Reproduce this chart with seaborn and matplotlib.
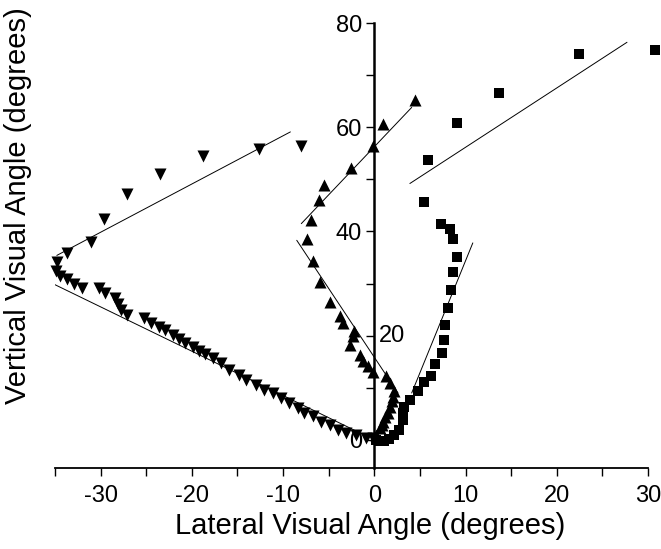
import matplotlib
matplotlib.use("Agg")
import matplotlib.pyplot as plt
import seaborn as sns
import pandas as pd

# marker data (degrees)
down_x = [-0.1, -0.9, -2.0, -3.1, -4.0, -4.9, -5.8, -6.7, -7.7, -8.4, -9.3, -10.2, -11.1, -12.1,
          -13.0, -14.1, -14.8, -15.9, -16.8, -17.7, -18.6, -19.2, -19.9, -20.7, -21.4, -22.1,
          -22.9, -23.6, -24.5, -25.2, -27.1, -27.8, -28.1, -28.4, -29.5, -30.2, -32.0, -32.9,
          -33.7, -34.5, -34.9, -34.8, -33.7, -31.0, -29.6, -27.1, -23.5, -18.8, -12.6, -8.0]
down_y = [0.3, 0.3, 1.0, 1.3, 1.9, 2.9, 3.5, 4.5, 5.1, 6.1, 7.1, 8.0, 9.0, 9.6,
          10.6, 11.5, 12.5, 13.5, 14.7, 15.7, 16.5, 17.0, 17.8, 18.6, 19.4, 20.2,
          21.0, 21.7, 22.4, 23.4, 24.0, 25.0, 26.0, 27.2, 28.2, 29.2, 29.1, 29.9,
          30.9, 31.5, 32.4, 34.1, 35.9, 37.9, 42.4, 47.1, 51.1, 54.5, 55.9, 56.4]

up_x = [0.2, 0.6, 0.8, 1.0, 1.2, 1.5, 1.7, 1.9, 2.0, 2.2, 1.7, 1.3, -0.1, -0.7, -1.2, -1.6,
        -2.7, -2.3, -2.2, -3.4, -3.8, -4.9, -5.9, -6.7, -7.4, -6.9, -6.1, -5.5, -2.5, -0.1,
        1.0, 4.5]
up_y = [1.0, 2.2, 2.8, 3.5, 4.3, 5.1, 6.3, 7.4, 8.3, 9.3, 10.9, 12.2, 13.1, 14.1, 15.1, 16.3,
        18.3, 19.9, 20.8, 22.4, 23.7, 26.4, 30.3, 34.3, 38.5, 42.2, 46.0, 49.0, 52.1, 56.4,
        60.7, 65.3]

sq_x = [0.2, 0.5, 1.1, 1.6, 2.2, 2.7, 3.1, 3.2, 3.3, 3.9, 4.8, 5.4, 6.2, 6.7, 7.4, 7.6,
        7.8, 8.1, 8.4, 8.6, 9.1, 8.6, 8.3, 7.3, 5.4, 5.9, 9.1, 13.7, 22.4, 30.8]
sq_y = [-0.1, -0.3, -0.3, 0.2, 1.0, 1.9, 3.8, 5.2, 6.4, 7.7, 9.3, 11.2, 12.3, 14.6, 16.7, 19.1,
        22.1, 25.4, 28.7, 32.2, 35.1, 38.5, 40.5, 41.5, 45.6, 53.7, 60.9, 66.5, 74.0, 74.9]

# fitted line segments: (x0, x1), (y0, y1)
fit_lines = [
    ((-36.2, -0.7), (30.8, 0.6)),
    ((-34.8, -9.2), (35.4, 59.1)),
    ((-8.5, 2.6), (38.3, 9.0)),
    ((-8.0, 4.1), (41.5, 63.8)),
    ((4.1, 10.8), (9.0, 37.8)),
    ((3.9, 27.7), (49.2, 76.3)),
]

x_ticks = [-30, -20, -10, 0, 10, 20, 30]
y_ticks = [0, 20, 40, 60, 80]

sns.set_style("white", {"axes.labelcolor": "black", "text.color": "black",
                        "xtick.color": "black", "ytick.color": "black"})
plt.rcParams["font.family"] = ["Liberation Sans", "DejaVu Sans"]

fig = plt.figure(figsize=(6.61, 5.49), dpi=100)
ax = fig.add_axes([0.0832, 0.1475, 0.8971, 0.8106])

for (xs, ys) in fit_lines:
    seg = pd.DataFrame({"x": list(xs), "y": list(ys)})
    sns.lineplot(data=seg, x="x", y="y", color="black", linewidth=0.7, ax=ax,
                 sort=False, estimator=None, zorder=2)

for xs, ys, m, s in [(down_x, down_y, "v", 75), (up_x, up_y, "^", 75), (sq_x, sq_y, "s", 62)]:
    sns.scatterplot(x=xs, y=ys, marker=m, color="black", s=s, linewidth=0,
                    ax=ax, zorder=3, clip_on=False)

ax.set_xlim(-35, 30)
ax.set_ylim(-5.4, 80)

ax.spines["top"].set_visible(False)
ax.spines["right"].set_visible(False)
ax.spines["left"].set_position(("data", 0))
ax.spines["left"].set_linewidth(1.8)
ax.spines["bottom"].set_linewidth(1.3)
ax.spines["left"].set_color("black")
ax.spines["bottom"].set_color("black")
ax.spines["left"].set_bounds(-5.4, 80)

ax.set_xticks(range(-35, 31, 5), minor=True)
ax.set_xticks(x_ticks)
ax.set_xticklabels([str(t) for t in x_ticks])
ax.set_yticks(range(10, 80, 20), minor=True)
ax.set_yticks(y_ticks)
ax.set_yticklabels(["" if t == 20 else str(t) for t in y_ticks])
ax.text(0.5, 20, "20", ha="left", va="center", fontsize=17, color="black")

ax.tick_params(axis="both", which="both", direction="out", length=6, width=1.0,
               color="black", labelcolor="black", labelsize=17, left=True, bottom=True)
ax.tick_params(axis="y", pad=3)
ax.tick_params(axis="x", pad=6)

ax.set_xlabel("Lateral Visual Angle (degrees)", fontsize=21, color="black")
ax.set_ylabel("Vertical Visual Angle (degrees)", fontsize=21, color="black")
ax.xaxis.set_label_coords(0.531, -0.098)
ax.yaxis.set_label_coords(-0.062, 0.59)
ax.yaxis.label.set_va("center")
ax.xaxis.label.set_va("top")

fig.savefig("out.png", dpi=100)
